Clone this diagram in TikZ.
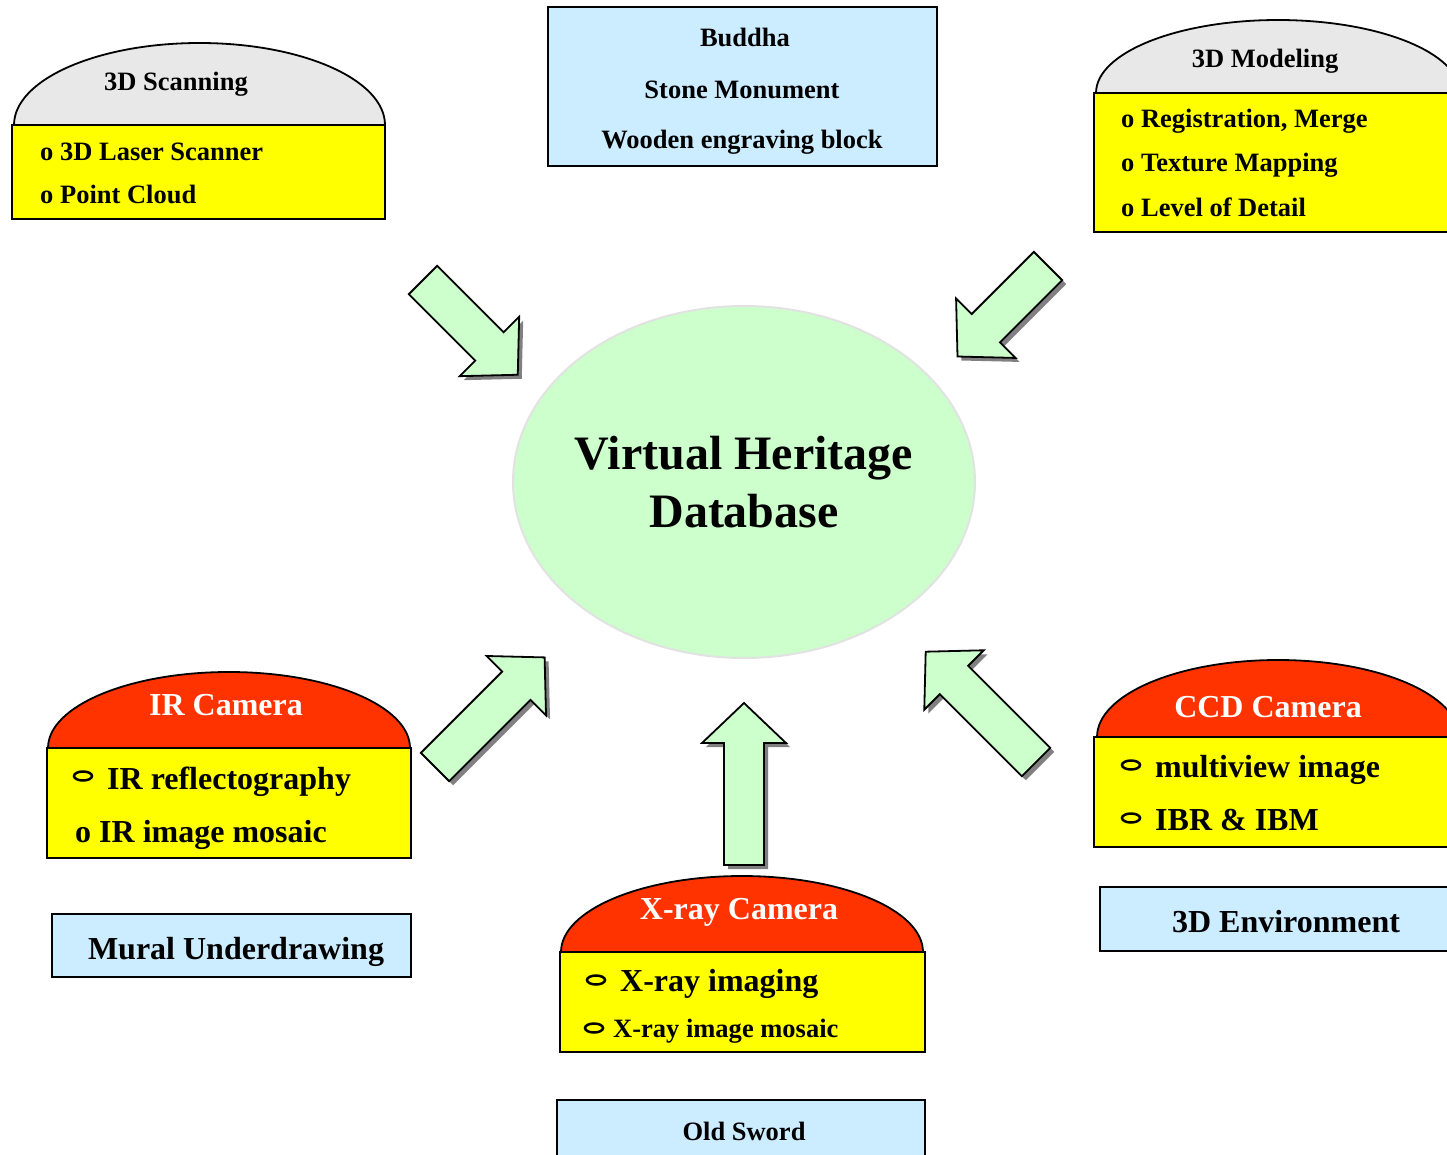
\documentclass[tikz,border=0pt]{standalone}
\usepackage{fontspec}
\setmainfont{Liberation Serif}
\usetikzlibrary{shapes.geometric}

\definecolor{domegray}{HTML}{E8E8E8}
\definecolor{camred}{HTML}{FF3300}
\definecolor{panelyellow}{HTML}{FFFF00}
\definecolor{objblue}{HTML}{CCECFF}
\definecolor{hubgreen}{HTML}{CCFFCC}
\definecolor{hubline}{HTML}{E2E2E2}
\definecolor{shadowgray}{HTML}{808080}

\newcommand{\drawdome}[5]{
\draw[line width=1.8pt, fill=#5]
(#1, #2) arc[start angle=180, end angle=0, x radius=#3pt, y radius=#4pt] -- cycle;
}
\newcommand{\drawpanel}[5]{
\draw[line width=1.8pt, fill=#5]
(#1, #2) rectangle (#3, #4);
}
\newcommand{\drawarrow}[4]{
\fill[shadowgray, shift={(#1+4, #2+4)}, rotate=#3]
(0, -20) -- ({#4-40}, -20) -- ({#4-40}, -42) -- (#4, 0) -- ({#4-40}, 42) -- ({#4-40}, 20) -- (0, 20) -- cycle;
\draw[line width=1.8pt, line join=miter, fill=hubgreen, shift={(#1, #2)}, rotate=#3]
(0, -20) -- ({#4-40}, -20) -- ({#4-40}, -42) -- (#4, 0) -- ({#4-40}, 42) -- ({#4-40}, 20) -- (0, 20) -- cycle;
}
\newcommand{\drawring}[2]{
\draw[line width=2.5pt]
(#1, #2) ellipse[x radius=9pt, y radius=4.5pt];
}

\tikzset{
item/.style={anchor=base west, inner sep=0, font=\fontsize{26.5pt}{30pt}\selectfont\bfseries},
bigitem/.style={item, font=\fontsize{32pt}{36pt}\selectfont\bfseries},
title/.style={anchor=base, inner sep=0, font=\fontsize{26.5pt}{30pt}\selectfont\bfseries},
bigtitle/.style={title, font=\fontsize{32pt}{36pt}\selectfont\bfseries},
camtitle/.style={bigtitle, text=white},
hub/.style={ellipse, draw=hubline, line width=2pt, fill=hubgreen, inner sep=-20pt, minimum width=462, minimum height=352, align=center, font=\fontsize{48pt}{58pt}\selectfont\bfseries}
}

\begin{document}
\begin{tikzpicture}[x=1pt, y=-1pt]
\useasboundingbox (0, 0) rectangle (1447, 1154);
\clip (0, 0) rectangle (1447, 1154);

\node[hub] (vhdb) at (744, 482) {Virtual Heritage\\Database};

\drawarrow{423}{280}{-45}{134}
\drawarrow{1048}{266}{-135}{128}
\drawarrow{435}{767}{45}{155}
\drawarrow{744}{865}{90}{162}
\drawarrow{1036}{762}{135}{156}

\drawdome{14}{125}{185.5}{82}{domegray}
\drawpanel{12}{125}{385}{219}{panelyellow}
\node[title] (scan) at (176, 90) {3D Scanning};
\node[item] (scan1) at (40, 160) {o 3D Laser Scanner};
\node[item] (scan2) at (40, 203) {o Point Cloud};

\drawpanel{548}{7}{937}{166}{objblue}
\node[title] (buddha) at (745, 46) {Buddha};
\node[title] (stone) at (742, 98) {Stone Monument};
\node[title] (wood) at (742, 148) {Wooden engraving block};

\drawdome{1096}{93}{182}{73}{domegray}
\drawpanel{1094}{93}{1462}{232}{panelyellow}
\node[title] (model) at (1265, 67) {3D Modeling};
\node[item] (model1) at (1121, 127) {o Registration, Merge};
\node[item] (model2) at (1121, 171) {o Texture Mapping};
\node[item] (model3) at (1121, 216) {o Level of Detail};

\drawdome{48}{748}{181}{76}{camred}
\drawpanel{47}{748}{411}{858}{panelyellow}
\node[camtitle] (ircam) at (226, 715) {IR Camera};
\drawring{83}{776}
\node[bigitem] (ir1) at (107, 789) {IR reflectography};
\node[bigitem] (ir2) at (75, 842) {o IR image mosaic};
\drawpanel{52}{914}{411}{977}{objblue}
\node[bigtitle] (mural) at (236, 959) {Mural Underdrawing};

\drawdome{561}{952}{181}{76}{camred}
\drawpanel{560}{952}{925}{1052}{panelyellow}
\node[camtitle] (xcam) at (739, 919) {X-ray Camera};
\drawring{596}{980}
\node[bigitem] (x1) at (620, 991) {X-ray imaging};
\drawring{594}{1028}
\node[item] (x2) at (613, 1037) {X-ray image mosaic};
\drawpanel{557}{1100}{925}{1170}{objblue}
\node[title] (sword) at (744, 1140) {Old Sword};

\drawdome{1097}{737}{181}{77}{camred}
\drawpanel{1094}{737}{1462}{847}{panelyellow}
\node[camtitle] (ccdcam) at (1268, 717) {CCD Camera};
\drawring{1131}{765}
\node[bigitem] (ccd1) at (1155, 777) {multiview image};
\drawring{1131}{818}
\node[bigitem] (ccd2) at (1155, 830) {IBR \& IBM};
\drawpanel{1100}{887}{1472}{951}{objblue}
\node[bigtitle] (env) at (1286, 932) {3D Environment};

\end{tikzpicture}
\end{document}
